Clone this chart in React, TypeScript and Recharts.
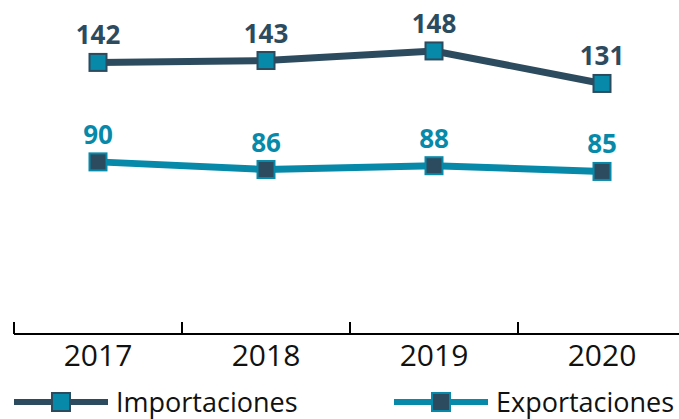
import { LineChart, Line, XAxis, YAxis, LabelList } from 'recharts';

const years = ['2017', '2018', '2019', '2020'];
const importaciones = [142, 143, 148, 131];
const exportaciones = [90, 86, 88, 85];

const DARK = '#2d4b5f';
const TEAL = '#0789a9';
const FONT = '"Open Sans", sans-serif';

const CHART_W = 710;
const CHART_H = 419;
const MARGIN = { top: 28, right: 24, bottom: 0, left: 14 };
const PLOT_W = CHART_W - MARGIN.left - MARGIN.right;
const STEP = PLOT_W / years.length;

const data = years.map((year, i) => ({
  year,
  importaciones: importaciones[i],
  exportaciones: exportaciones[i],
}));

// square marker, fill and border swapped between the two series
function squareDot(fill: string, stroke: string) {
  // eslint-disable-next-line @typescript-eslint/no-explicit-any
  return (props: any) => {
    const { cx, cy, index } = props;
    if (cx == null || cy == null) return <g key={index} />;
    return <rect key={index} x={cx - 8.5} y={cy - 8.5} width={17} height={17} fill={fill} stroke={stroke} strokeWidth={2} />;
  };
}

// eslint-disable-next-line @typescript-eslint/no-explicit-any
function YearTick(props: any) {
  const { x, y, payload, index } = props;
  const left = x - STEP / 2;
  return (
    <g>
      <line x1={left} x2={left} y1={y - 12} y2={y} stroke='#000' strokeWidth={2} />
      {index === years.length - 1 && <line x1={x + STEP / 2} x2={x + STEP / 2} y1={y - 12} y2={y} stroke='#000' strokeWidth={2} />}
      <text x={x} y={y + 32} textAnchor='middle' fontSize={30} fontFamily={FONT} fill='#111'>
        {payload.value}
      </text>
    </g>
  );
}

function LegendItem({ label, line, fill, stroke, left }: { label: string; line: string; fill: string; stroke: string; left: number }) {
  return (
    <div style={{ position: 'absolute', left, top: 386, display: 'flex', alignItems: 'center', whiteSpace: 'nowrap' }}>
      <svg width={94} height={22}>
        <line x1={0} x2={94} y1={11} y2={11} stroke={line} strokeWidth={6} />
        <rect x={38} y={2} width={18} height={18} fill={fill} stroke={stroke} strokeWidth={2} />
      </svg>
      <span style={{ marginLeft: 8, fontFamily: FONT, fontSize: 27, color: '#111', lineHeight: '32px' }}>{label}</span>
    </div>
  );
}

export default function App() {
  return (
    <div style={{ position: 'absolute', left: 0, top: 0, width: 679, height: 419, overflow: 'hidden', background: '#fff' }}>
      <LineChart data={data} width={CHART_W} height={CHART_H} margin={MARGIN}>
        <XAxis
          dataKey='year'
          padding={{ left: STEP / 2, right: STEP / 2 }}
          height={85}
          axisLine={{ stroke: '#000', strokeWidth: 2 }}
          tickLine={false}
          tickSize={0}
          tickMargin={0}
          tick={<YearTick />}
          interval={0}
        />
        <YAxis hide domain={[0, 160]} />
        <Line
          type='linear'
          dataKey='importaciones'
          stroke={DARK}
          strokeWidth={7}
          dot={squareDot(TEAL, DARK)}
          activeDot={false}
          isAnimationActive={false}
        >
          <LabelList dataKey='importaciones' position='top' offset={18} fill={DARK} fontSize={26} fontWeight={700} fontFamily={FONT} />
        </Line>
        <Line
          type='linear'
          dataKey='exportaciones'
          stroke={TEAL}
          strokeWidth={7}
          dot={squareDot(DARK, TEAL)}
          activeDot={false}
          isAnimationActive={false}
        >
          <LabelList dataKey='exportaciones' position='top' offset={18} fill={TEAL} fontSize={26} fontWeight={700} fontFamily={FONT} />
        </Line>
      </LineChart>
      <LegendItem label='Importaciones' line={DARK} fill={TEAL} stroke={DARK} left={14} />
      <LegendItem label='Exportaciones' line={TEAL} fill={DARK} stroke={TEAL} left={394} />
    </div>
  );
}
